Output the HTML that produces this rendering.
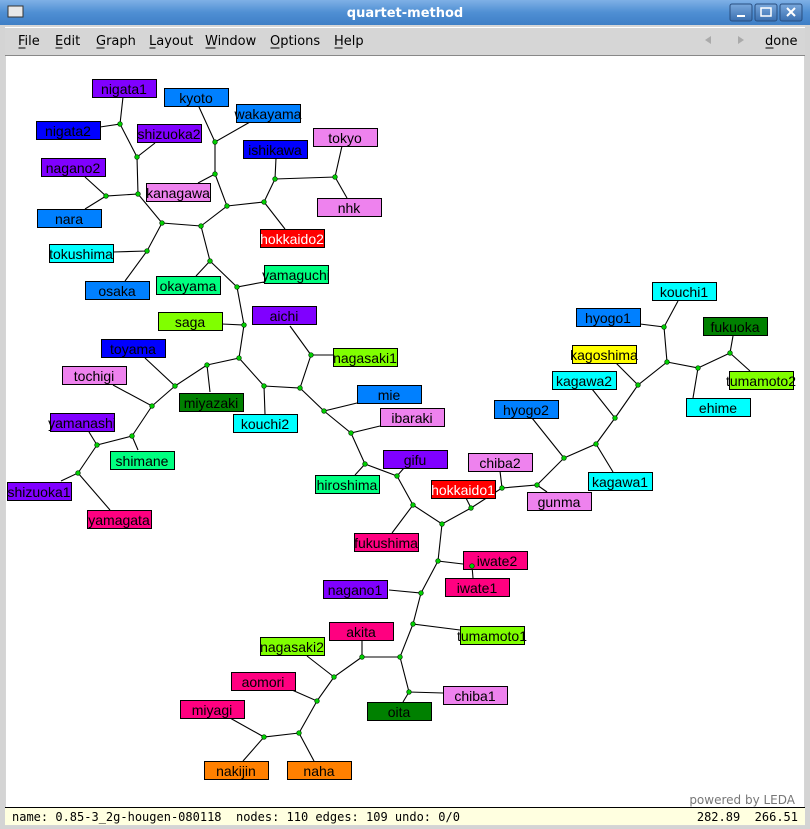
<!DOCTYPE html>
<html><head><meta charset="utf-8"><style>
html,body{margin:0;padding:0;width:810px;height:829px;overflow:hidden;background:#d6d6d6}
svg{display:block}
.l text{font-family:"Liberation Sans","DejaVu Sans",sans-serif;font-size:14px;text-anchor:middle}
</style></head><body>
<svg width="810" height="829" viewBox="0 0 810 829" xmlns="http://www.w3.org/2000/svg">
<defs>
<linearGradient id="tb" x1="0" y1="0" x2="0" y2="1"><stop offset="0" stop-color="#7fb0e6"/><stop offset="0.5" stop-color="#4f8fd3"/><stop offset="1" stop-color="#3f7fc6"/></linearGradient>
<linearGradient id="bt" x1="0" y1="0" x2="0" y2="1"><stop offset="0" stop-color="#7aa8dc"/><stop offset="1" stop-color="#3a6fb0"/></linearGradient>
</defs>
<rect x="0" y="0" width="810" height="829" fill="#d4d4d4"/>
<rect x="0" y="0" width="810" height="25" fill="url(#tb)"/>
<rect x="8" y="6" width="15" height="11" fill="#e8e8e8" stroke="#333" stroke-width="1"/>
<text x="405" y="17" fill="#fff" font-family="DejaVu Sans,Liberation Sans,sans-serif" font-size="13" font-weight="bold" text-anchor="middle">quartet-method</text>
<rect x="730" y="4" width="22" height="17" rx="2" fill="url(#bt)" stroke="#2a4f80"/>
<rect x="755" y="4" width="22" height="17" rx="2" fill="url(#bt)" stroke="#2a4f80"/>
<rect x="780" y="4" width="22" height="17" rx="2" fill="url(#bt)" stroke="#2a4f80"/>
<rect x="737" y="15" width="8" height="2" fill="#fff"/>
<rect x="761" y="8" width="10" height="8" fill="none" stroke="#fff" stroke-width="1.5"/>
<path d="M787 8 L795 16 M795 8 L787 16" stroke="#fff" stroke-width="2"/>
<rect x="5" y="25" width="800" height="801" fill="#d6d6d6"/>
<rect x="5" y="27" width="800" height="1" fill="#fff"/>
<g font-family="DejaVu Sans,Liberation Sans,sans-serif" font-size="13" fill="#000">
<text x="18" y="45">File</text><text x="55" y="45">Edit</text><text x="96" y="45">Graph</text><text x="149" y="45">Layout</text><text x="205" y="45">Window</text><text x="270" y="45">Options</text><text x="334" y="45">Help</text>
<text x="765" y="45">done</text>
</g>
<g stroke="#000" stroke-width="1">
<path d="M18.5 48h7M55.5 48h7M96.5 48h8M149.5 48h6M205.5 48h10M270.5 48h9M334.5 48h8M765.5 48h8"/>
</g>
<path d="M711 36 L705 40 L711 44Z M738 36 L744 40 L738 44Z" fill="#aaa"/>
<rect x="5" y="55" width="800" height="1" fill="#888"/>
<rect x="6" y="56" width="798" height="751" fill="#fff"/>
<text x="795" y="804" fill="#777" font-family="DejaVu Sans,sans-serif" font-size="12" text-anchor="end">powered by LEDA</text>
<rect x="5" y="807" width="800" height="1" fill="#000"/>
<rect x="5" y="808" width="800" height="17" fill="#ffffe0"/>
<g font-family="DejaVu Sans Mono,Liberation Mono,monospace" font-size="12" fill="#000" xml:space="preserve">
<text x="12" y="821" xml:space="preserve">name: 0.85-3_2g-hougen-080118  nodes: 110 edges: 109 undo: 0/0</text>
<text x="798" y="821" text-anchor="end" xml:space="preserve">282.89  266.51</text>
</g>

<g stroke="#000" stroke-width="1.1" fill="none">
<polyline points="123,97 120,124 100,127"/>
<polyline points="120,124 137,157 155,143"/>
<polyline points="137,157 138,194 106,196 85,177"/>
<polyline points="106,196 85,209"/>
<polyline points="138,194 162,223 201,226"/>
<polyline points="162,223 147,251 113,252"/>
<polyline points="147,251 125,281"/>
<polyline points="199,107 215,142 250,122"/>
<polyline points="215,142 215,174 198,183"/>
<polyline points="215,174 227,206 201,226"/>
<polyline points="227,206 264,202 285,229"/>
<polyline points="264,202 275,179 276,158"/>
<polyline points="275,179 335,177 342,146"/>
<polyline points="335,177 347,198"/>
<polyline points="201,226 210,261 196,276"/>
<polyline points="210,261 237,287 264,282"/>
<polyline points="237,287 244,325 222,324"/>
<polyline points="244,325 239,358 207,365 210,392"/>
<polyline points="207,365 175,386 145,358"/>
<polyline points="175,386 152,406 113,385"/>
<polyline points="152,406 132,436 138,450"/>
<polyline points="132,436 97,445 89,432"/>
<polyline points="97,445 78,473 61,481"/>
<polyline points="78,473 110,510"/>
<polyline points="239,358 264,386 265,414"/>
<polyline points="264,386 300,388 311,355 290,326"/>
<polyline points="311,355 335,355"/>
<polyline points="300,388 324,411 357,403"/>
<polyline points="324,411 351,433 380,426"/>
<polyline points="351,433 365,464 355,475"/>
<polyline points="365,464 397,476 404,468"/>
<polyline points="397,476 413,505 392,533"/>
<polyline points="413,505 442,524 471,508 466,498"/>
<polyline points="471,508 502,488 500,471"/>
<polyline points="502,488 537,485 547,492"/>
<polyline points="537,485 564,458 532,418"/>
<polyline points="564,458 596,444 613,472"/>
<polyline points="596,444 615,418 592,389"/>
<polyline points="615,418 638,385 616,363"/>
<polyline points="638,385 667,362 664,327 640,324"/>
<polyline points="664,327 678,301"/>
<polyline points="667,362 698,368 693,398"/>
<polyline points="698,368 730,353 733,336"/>
<polyline points="730,353 750,371"/>
<polyline points="442,524 438,561 463,564"/>
<polyline points="472,566 473,578"/>
<polyline points="438,561 421,593 389,590"/>
<polyline points="421,593 413,624 460,630"/>
<polyline points="413,624 400,657 362,657 362,640"/>
<polyline points="400,657 409,692 443,693"/>
<polyline points="409,692 403,702"/>
<polyline points="362,657 334,677 307,656"/>
<polyline points="334,677 317,701 292,690"/>
<polyline points="317,701 299,733 314,761"/>
<polyline points="299,733 264,737 230,718"/>
<polyline points="264,737 243,761"/>
</g>

<g class="l" stroke="#000" stroke-width="1">
<rect x="92.5" y="79.5" width="64" height="18" fill="#8000ff"/><text x="124" y="94" stroke="none">nigata1</text>
<rect x="36.5" y="121.5" width="64" height="18" fill="#0000ff"/><text x="68" y="136" stroke="none">nigata2</text>
<rect x="137.5" y="124.5" width="64" height="18" fill="#8000ff"/><text x="169" y="139" stroke="none">shizuoka2</text>
<rect x="164.5" y="88.5" width="64" height="18" fill="#0080ff"/><text x="196" y="103" stroke="none">kyoto</text>
<rect x="236.5" y="104.5" width="64" height="18" fill="#0080ff"/><text x="268" y="119" stroke="none">wakayama</text>
<rect x="243.5" y="140.5" width="64" height="18" fill="#0000ff"/><text x="275" y="155" stroke="none">ishikawa</text>
<rect x="313.5" y="128.5" width="64" height="18" fill="#ee82ee"/><text x="345" y="143" stroke="none">tokyo</text>
<rect x="317.5" y="198.5" width="64" height="18" fill="#ee82ee"/><text x="349" y="213" stroke="none">nhk</text>
<rect x="41.5" y="158.5" width="64" height="18" fill="#8000ff"/><text x="73" y="173" stroke="none">nagano2</text>
<rect x="146.5" y="183.5" width="64" height="18" fill="#ee82ee"/><text x="178" y="198" stroke="none">kanagawa</text>
<rect x="37.5" y="209.5" width="64" height="18" fill="#0080ff"/><text x="69" y="224" stroke="none">nara</text>
<rect x="260.5" y="229.5" width="64" height="18" fill="#ff0000"/><text x="292" y="244" stroke="none" fill="#fff">hokkaido2</text>
<rect x="49.5" y="244.5" width="64" height="18" fill="#00ffff"/><text x="81" y="259" stroke="none">tokushima</text>
<rect x="85.5" y="281.5" width="64" height="18" fill="#0080ff"/><text x="117" y="296" stroke="none">osaka</text>
<rect x="156.5" y="276.5" width="64" height="18" fill="#00ff80"/><text x="188" y="291" stroke="none">okayama</text>
<rect x="264.5" y="265.5" width="64" height="18" fill="#00ff80"/><text x="296" y="280" stroke="none">yamaguchi</text>
<rect x="158.5" y="312.5" width="64" height="18" fill="#80ff00"/><text x="190" y="327" stroke="none">saga</text>
<rect x="252.5" y="306.5" width="64" height="18" fill="#8000ff"/><text x="284" y="321" stroke="none">aichi</text>
<rect x="101.5" y="339.5" width="64" height="18" fill="#0000ff"/><text x="133" y="354" stroke="none">toyama</text>
<rect x="333.5" y="348.5" width="64" height="18" fill="#80ff00"/><text x="365" y="363" stroke="none">nagasaki1</text>
<rect x="652.5" y="282.5" width="64" height="18" fill="#00ffff"/><text x="684" y="297" stroke="none">kouchi1</text>
<rect x="576.5" y="308.5" width="64" height="18" fill="#0080ff"/><text x="608" y="323" stroke="none">hyogo1</text>
<rect x="703.5" y="317.5" width="64" height="18" fill="#008000"/><text x="735" y="332" stroke="none">fukuoka</text>
<rect x="572.5" y="345.5" width="64" height="18" fill="#ffff00"/><text x="604" y="360" stroke="none">kagoshima</text>
<rect x="62.5" y="366.5" width="64" height="18" fill="#ee82ee"/><text x="94" y="381" stroke="none">tochigi</text>
<rect x="552.5" y="371.5" width="64" height="18" fill="#00ffff"/><text x="584" y="386" stroke="none">kagawa2</text>
<rect x="729.5" y="371.5" width="64" height="18" fill="#80ff00"/><text x="761" y="386" stroke="none">tumamoto2</text>
<rect x="357.5" y="385.5" width="64" height="18" fill="#0080ff"/><text x="389" y="400" stroke="none">mie</text>
<rect x="179.5" y="393.5" width="64" height="18" fill="#008000"/><text x="211" y="408" stroke="none">miyazaki</text>
<rect x="686.5" y="398.5" width="64" height="18" fill="#00ffff"/><text x="718" y="413" stroke="none">ehime</text>
<rect x="494.5" y="400.5" width="64" height="18" fill="#0080ff"/><text x="526" y="415" stroke="none">hyogo2</text>
<rect x="380.5" y="408.5" width="64" height="18" fill="#ee82ee"/><text x="412" y="423" stroke="none">ibaraki</text>
<rect x="50.5" y="413.5" width="64" height="18" fill="#8000ff"/><text x="82" y="428" stroke="none">yamanashi</text>
<rect x="233.5" y="414.5" width="64" height="18" fill="#00ffff"/><text x="265" y="429" stroke="none">kouchi2</text>
<rect x="110.5" y="451.5" width="64" height="18" fill="#00ff80"/><text x="142" y="466" stroke="none">shimane</text>
<rect x="383.5" y="450.5" width="64" height="18" fill="#8000ff"/><text x="415" y="465" stroke="none">gifu</text>
<rect x="468.5" y="453.5" width="64" height="18" fill="#ee82ee"/><text x="500" y="468" stroke="none">chiba2</text>
<rect x="588.5" y="472.5" width="64" height="18" fill="#00ffff"/><text x="620" y="487" stroke="none">kagawa1</text>
<rect x="315.5" y="475.5" width="64" height="18" fill="#00ff80"/><text x="347" y="490" stroke="none">hiroshima</text>
<rect x="7.5" y="482.5" width="64" height="18" fill="#8000ff"/><text x="39" y="497" stroke="none">shizuoka1</text>
<rect x="431.5" y="480.5" width="64" height="18" fill="#ff0000"/><text x="463" y="495" stroke="none" fill="#fff">hokkaido1</text>
<rect x="527.5" y="492.5" width="64" height="18" fill="#ee82ee"/><text x="559" y="507" stroke="none">gunma</text>
<rect x="87.5" y="510.5" width="64" height="18" fill="#ff0080"/><text x="119" y="525" stroke="none">yamagata</text>
<rect x="354.5" y="533.5" width="64" height="18" fill="#ff0080"/><text x="386" y="548" stroke="none">fukushima</text>
<rect x="463.5" y="551.5" width="64" height="18" fill="#ff0080"/><text x="497" y="566" stroke="none">iwate2</text>
<rect x="445.5" y="578.5" width="64" height="18" fill="#ff0080"/><text x="477" y="593" stroke="none">iwate1</text>
<rect x="323.5" y="580.5" width="64" height="18" fill="#8000ff"/><text x="355" y="595" stroke="none">nagano1</text>
<rect x="329.5" y="622.5" width="64" height="18" fill="#ff0080"/><text x="361" y="637" stroke="none">akita</text>
<rect x="460.5" y="626.5" width="64" height="18" fill="#80ff00"/><text x="492" y="641" stroke="none">tumamoto1</text>
<rect x="260.5" y="637.5" width="64" height="18" fill="#80ff00"/><text x="292" y="652" stroke="none">nagasaki2</text>
<rect x="231.5" y="672.5" width="64" height="18" fill="#ff0080"/><text x="263" y="687" stroke="none">aomori</text>
<rect x="443.5" y="686.5" width="64" height="18" fill="#ee82ee"/><text x="475" y="701" stroke="none">chiba1</text>
<rect x="180.5" y="700.5" width="64" height="18" fill="#ff0080"/><text x="212" y="715" stroke="none">miyagi</text>
<rect x="367.5" y="702.5" width="64" height="18" fill="#008000"/><text x="399" y="717" stroke="none">oita</text>
<rect x="204.5" y="761.5" width="64" height="18" fill="#ff8000"/><text x="236" y="776" stroke="none">nakijin</text>
<rect x="287.5" y="761.5" width="64" height="18" fill="#ff8000"/><text x="319" y="776" stroke="none">naha</text>
</g>

<g fill="#00d000" stroke="#003000" stroke-width="0.7">
<circle cx="120" cy="124" r="2.3"/><circle cx="137" cy="157" r="2.3"/><circle cx="138" cy="194" r="2.3"/><circle cx="106" cy="196" r="2.3"/>
<circle cx="162" cy="223" r="2.3"/><circle cx="201" cy="226" r="2.3"/><circle cx="147" cy="251" r="2.3"/>
<circle cx="215" cy="142" r="2.3"/><circle cx="215" cy="174" r="2.3"/><circle cx="227" cy="206" r="2.3"/><circle cx="264" cy="202" r="2.3"/><circle cx="275" cy="179" r="2.3"/><circle cx="335" cy="177" r="2.3"/>
<circle cx="210" cy="261" r="2.3"/><circle cx="237" cy="287" r="2.3"/><circle cx="244" cy="325" r="2.3"/><circle cx="239" cy="358" r="2.3"/>
<circle cx="207" cy="365" r="2.3"/><circle cx="175" cy="386" r="2.3"/><circle cx="152" cy="406" r="2.3"/><circle cx="132" cy="436" r="2.3"/><circle cx="97" cy="445" r="2.3"/><circle cx="78" cy="473" r="2.3"/>
<circle cx="264" cy="386" r="2.3"/><circle cx="300" cy="388" r="2.3"/><circle cx="311" cy="355" r="2.3"/><circle cx="324" cy="411" r="2.3"/><circle cx="351" cy="433" r="2.3"/><circle cx="365" cy="464" r="2.3"/><circle cx="397" cy="476" r="2.3"/><circle cx="413" cy="505" r="2.3"/>
<circle cx="442" cy="524" r="2.3"/><circle cx="471" cy="508" r="2.3"/><circle cx="502" cy="488" r="2.3"/><circle cx="537" cy="485" r="2.3"/><circle cx="564" cy="458" r="2.3"/><circle cx="596" cy="444" r="2.3"/><circle cx="615" cy="418" r="2.3"/><circle cx="638" cy="385" r="2.3"/><circle cx="667" cy="362" r="2.3"/><circle cx="664" cy="327" r="2.3"/><circle cx="698" cy="368" r="2.3"/><circle cx="730" cy="353" r="2.3"/>
<circle cx="438" cy="561" r="2.3"/><circle cx="472" cy="566" r="2.3"/><circle cx="421" cy="593" r="2.3"/><circle cx="413" cy="624" r="2.3"/><circle cx="400" cy="657" r="2.3"/><circle cx="362" cy="657" r="2.3"/><circle cx="409" cy="692" r="2.3"/><circle cx="334" cy="677" r="2.3"/><circle cx="317" cy="701" r="2.3"/><circle cx="299" cy="733" r="2.3"/><circle cx="264" cy="737" r="2.3"/>
</g>
</svg>
</body></html>
